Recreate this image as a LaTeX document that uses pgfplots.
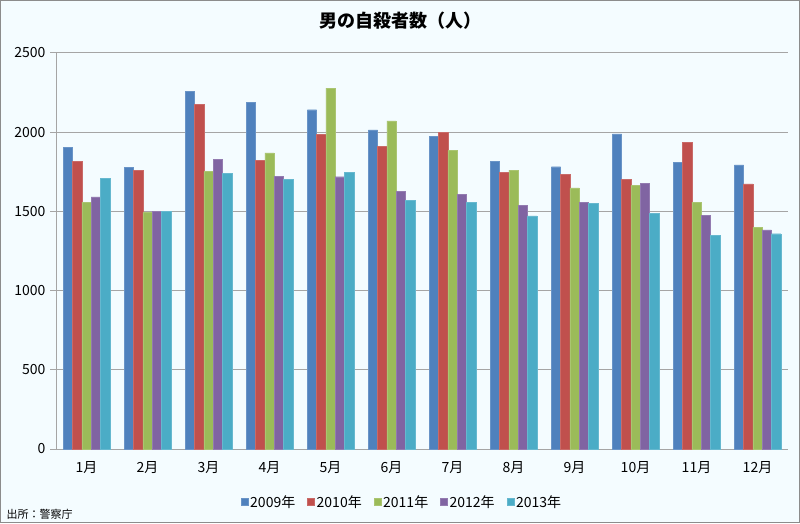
\documentclass[border=0pt]{standalone}
\usepackage{pgfplots}
\pgfplotsset{compat=1.18}
\usepackage{fontspec}
\setmainfont{Noto Sans CJK JP}
\definecolor{bg}{RGB}{244,252,255}
\definecolor{bordergray}{RGB}{140,140,140}
\definecolor{gridgray}{RGB}{165,165,165}
\definecolor{cA}{HTML}{4F81BD}
\definecolor{cB}{HTML}{C0504D}
\definecolor{cC}{HTML}{9BBB59}
\definecolor{cD}{HTML}{8064A2}
\definecolor{cE}{HTML}{4BACC6}
\begin{document}
\begin{tikzpicture}[x=1pt,y=1pt]
\fill[bg,draw=bordergray,line width=1pt] (0.5,0.5) rectangle (799.5,522.5);
\node[font=\fontsize{18}{18}\selectfont\bfseries] at (400,502) {男の自殺者数（人）};
\node[font=\fontsize{11}{11}\selectfont,anchor=west] at (3,9) {出所：警察庁};
\begin{axis}[
  at={(56pt,74pt)}, anchor=south west,
  scale only axis, width=732pt, height=396pt,
  ybar=0pt, bar width=9.3pt,
  xmin=-0.5, xmax=11.5, ymin=0, ymax=2500,
  xtick={0,...,11},
  xticklabels={1月,2月,3月,4月,5月,6月,7月,8月,9月,10月,11月,12月},
  x tick style={draw=none},
  major tick length=6pt,
  extra x ticks={-0.5,0.5,...,11.5},
  extra x tick labels={},
  extra x tick style={tick style={draw=gridgray, line width=1pt}, tick align=outside, grid=none},
  ytick={0,500,...,2500},
  ymajorgrids, grid style={gridgray, line width=1pt},
  y tick style={draw=gridgray, line width=1pt},
  tick align=outside,
  axis x line*=bottom, axis y line*=left,
  axis line style={draw=gridgray, line width=1pt, -},
  ticklabel style={font=\fontsize{14}{14}\selectfont},
  /pgf/number format/assume math mode=true,
  /pgf/number format/1000 sep={},
  yticklabel style={xshift=-1pt},
  xticklabel style={yshift=-3pt},
  legend style={at={(0.4727,-0.134)}, anchor=center, draw=none, fill=none,
    font=\fontsize{14}{14}\selectfont, legend columns=5,
    /tikz/every even column/.append style={column sep=10pt}},
  legend image code/.code={\fill[#1] (0pt,-3.5pt) rectangle (7pt,3.5pt);},
  legend cell align=left,
]
\addplot[fill=cA, draw=cA!85!white] coordinates {(0,1904)(1,1776)(2,2256)(3,2189)(4,2142)(5,2014)(6,1976)(7,1818)(8,1782)(9,1989)(10,1810)(11,1793)};
\addplot[fill=cB, draw=cB!85!white] coordinates {(0,1818)(1,1761)(2,2178)(3,1824)(4,1988)(5,1911)(6,1997)(7,1745)(8,1736)(9,1704)(10,1936)(11,1673)};
\addplot[fill=cC, draw=cC!85!white] coordinates {(0,1559)(1,1494)(2,1751)(3,1869)(4,2279)(5,2071)(6,1886)(7,1761)(8,1648)(9,1665)(10,1559)(11,1401)};
\addplot[fill=cD, draw=cD!85!white] coordinates {(0,1591)(1,1502)(2,1829)(3,1723)(4,1719)(5,1627)(6,1606)(7,1538)(8,1559)(9,1679)(10,1477)(11,1384)};
\addplot[fill=cE, draw=cE!85!white] coordinates {(0,1709)(1,1502)(2,1740)(3,1704)(4,1745)(5,1570)(6,1559)(7,1471)(8,1549)(9,1486)(10,1349)(11,1359)};
\legend{2009年,2010年,2011年,2012年,2013年}
\end{axis}
\end{tikzpicture}
\end{document}
